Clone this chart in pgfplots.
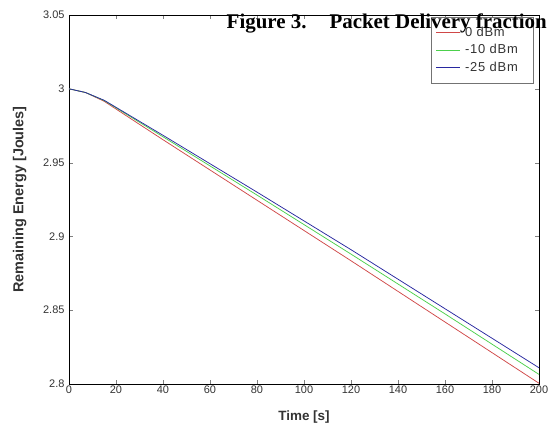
\documentclass[border=0pt]{standalone}
\usepackage{pgfplots}
\pgfplotsset{compat=1.18}
\usepackage{fontspec}
\setmainfont{Liberation Sans}
\newfontfamily\timesfont{Liberation Serif}
\newfontfamily\legfont[LetterSpace=6]{Liberation Sans}
\definecolor{zRed}{HTML}{D04848}
\definecolor{zGreen}{HTML}{4CD04C}
\definecolor{zBlue}{HTML}{2828A0}
\definecolor{zText}{HTML}{333333}
\newcommand{\legtxt}[1]{\hspace*{3pt}\textcolor{zText}{#1}\hspace*{8pt}}
\begin{document}
\begin{tikzpicture}
\begin{axis}[scale only axis,width=470bp,height=369bp,
xmin=0,xmax=200,ymin=2.8,ymax=3.05,
xtick={0,20,...,200},
ytick={2.8,2.85,2.9,2.95,3,3.05},
yticklabels={2.8,2.85,2.9,2.95,3,3.05},
tick align=inside,
major tick length=4pt,
axis line style={line width=0.7pt},
/pgf/number format/assume math mode=true,
tick label style={font=\fontsize{11}{13}\selectfont,text=zText},
xticklabel style={yshift=2pt},
yticklabel style={xshift=-1pt},
xlabel={\bfseries Time [s]},
ylabel={\bfseries Remaining Energy [Joules]},
xlabel style={font=\fontsize{13.5}{15}\selectfont,text=zText,
at={([yshift=-23bp]rel axis cs:0.5,0)},anchor=north},
ylabel style={font=\fontsize{14.5}{16}\selectfont,text=zText,
at={([xshift=-39bp]rel axis cs:0,0.5)},anchor=south},
legend style={draw=black!55,font=\legfont\fontsize{13}{15}\selectfont,
at={([xshift=-6bp,yshift=-2bp]rel axis cs:1,1)},anchor=north east,
row sep=2.5pt,inner xsep=5pt,inner ysep=8pt},
legend image code/.code={\draw[#1] (0cm,0cm) -- (0.82cm,0cm);},
legend cell align=left,
clip=false]
\addplot[zRed,line width=0.75pt] coordinates {
(0,3.0) (7,2.9975) (15,2.9915) (40,2.9655) (80,2.9245)
(120,2.8835) (160,2.8420) (200,2.8005)};
\addlegendentry{\legtxt{0 dBm}}
\addplot[zGreen,line width=0.75pt] coordinates {
(0,3.0) (7,2.9975) (15,2.9920) (40,2.9675) (80,2.9280)
(120,2.8880) (160,2.8475) (200,2.8065)};
\addlegendentry{\legtxt{-10 dBm}}
\addplot[zBlue,line width=0.75pt] coordinates {
(0,3.0) (7,2.9975) (15,2.9922) (40,2.9685) (80,2.9300)
(120,2.8910) (160,2.8510) (200,2.8110)};
\addlegendentry{\legtxt{-25 dBm}}
\coordinate (bl) at (rel axis cs:0,0);
\coordinate (tr) at (rel axis cs:1,1);
\end{axis}
\node[anchor=base east,inner sep=0pt,font=\timesfont\bfseries\fontsize{21}{23}\selectfont]
at ([xshift=8bp,yshift=-14bp]tr) {Figure 3.\hspace{1.1em}Packet Delivery fraction};
\pgfresetboundingbox
\path ([shift={(-69bp,-39bp)}]bl) rectangle ([shift={(11bp,15bp)}]tr);
\end{tikzpicture}
\end{document}
